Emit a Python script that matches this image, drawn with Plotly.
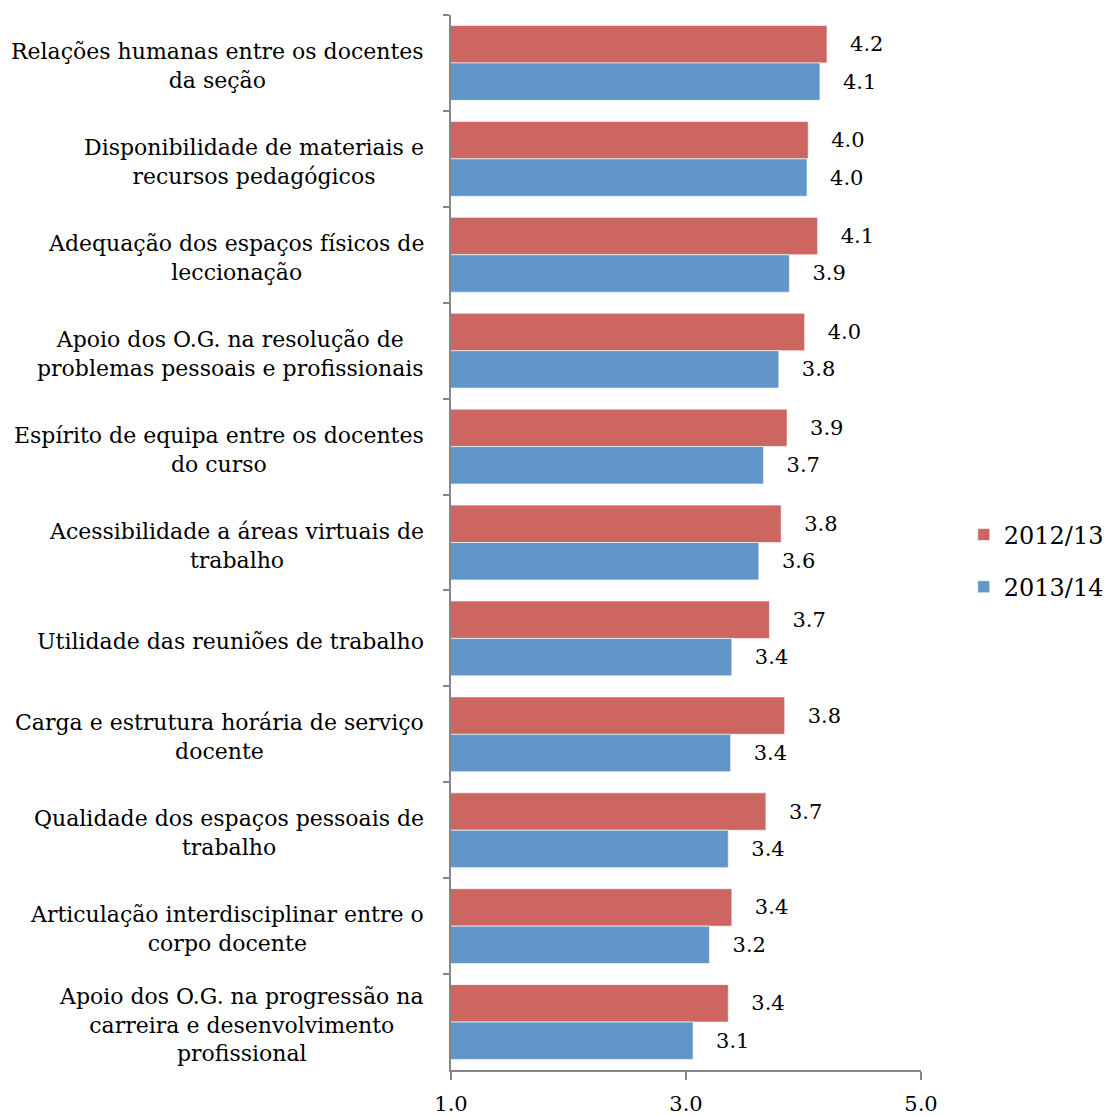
import plotly.graph_objects as go

categories = [
    "Relações humanas entre os docentes<br>da seção",
    "Disponibilidade de materiais e<br>recursos pedagógicos",
    "Adequação dos espaços físicos de<br>leccionação",
    "Apoio dos O.G. na resolução de<br>problemas pessoais e profissionais",
    "Espírito de equipa entre os docentes<br>do curso",
    "Acessibilidade a áreas virtuais de<br>trabalho",
    "Utilidade das reuniões de trabalho",
    "Carga e estrutura horária de serviço<br>docente",
    "Qualidade dos espaços pessoais de<br>trabalho",
    "Articulação interdisciplinar entre o<br>corpo docente",
    "Apoio dos O.G. na progressão na<br>carreira e desenvolvimento<br>profissional",
]
values_2012 = [4.20, 4.04, 4.12, 4.01, 3.86, 3.81, 3.71, 3.84, 3.68, 3.39, 3.36]
values_2013 = [4.14, 4.03, 3.88, 3.79, 3.66, 3.62, 3.39, 3.38, 3.36, 3.20, 3.06]
series_names = ["2012/13", "2013/14"]
x_ticks = [1.0, 3.0, 5.0]

FONT = "DejaVu Serif"
RED = "#CD6560"
BLUE = "#6096C9"
NB = "\u00a0" * 3
LABEL_SIZE = 22

fig = go.Figure()
for name, vals, col, grp in [(series_names[0], values_2012, RED, "a"),
                             (series_names[1], values_2013, BLUE, "b")]:
    fig.add_trace(go.Bar(
        y=categories, x=vals, orientation="h", name=name,
        marker=dict(color=col, line=dict(color="rgba(255,255,255,0.6)", width=1)),
        texttemplate=NB + "%{x:.1f}", textposition="outside",
        textfont=dict(family=FONT, size=21, color="#000000"),
        cliponaxis=False, legendgroup=grp,
    ))

# Category labels: block right-aligned next to the axis, lines centred
annotations = [
    dict(x=-25 / 470, xref="paper", y=cat, yref="y",
         xanchor="right", yanchor="middle", align="center",
         text=cat, showarrow=False, yshift=-3,
         font=dict(family=FONT, size=LABEL_SIZE, color="#000000"))
    for cat in categories
]

fig.update_layout(
    width=1109, height=1116,
    margin=dict(l=451, r=188, t=15, b=46, autoexpand=False),
    paper_bgcolor="white", plot_bgcolor="white",
    barmode="group", bargap=0.22, bargroupgap=0.0,
    font=dict(family=FONT, size=21, color="#000000"),
    showlegend=True,
    legend=dict(x=1.091, y=0.4825, xanchor="left", yanchor="middle",
                font=dict(family=FONT, size=24), tracegroupgap=18,
                traceorder="grouped", itemwidth=30),
    annotations=annotations,
    xaxis=dict(range=[1, 5], tickvals=x_ticks, tickformat=".1f",
               showgrid=False, zeroline=False, showline=True,
               linecolor="#868686", linewidth=1.5, ticks="outside",
               ticklen=8, tickcolor="#868686", tickwidth=1.5,
               ticklabelstandoff=6, automargin=False,
               tickfont=dict(family=FONT, size=21)),
    yaxis=dict(autorange="reversed", type="category", showgrid=False,
               showline=True, linecolor="#868686", linewidth=1.5,
               ticks="outside", tickson="boundaries", ticklen=6,
               tickcolor="#868686", tickwidth=1.5, showticklabels=False,
               automargin=False),
)

fig.write_html("out.html", config={"displayModeBar": False},
               post_script="document.body.style.margin='0';")
